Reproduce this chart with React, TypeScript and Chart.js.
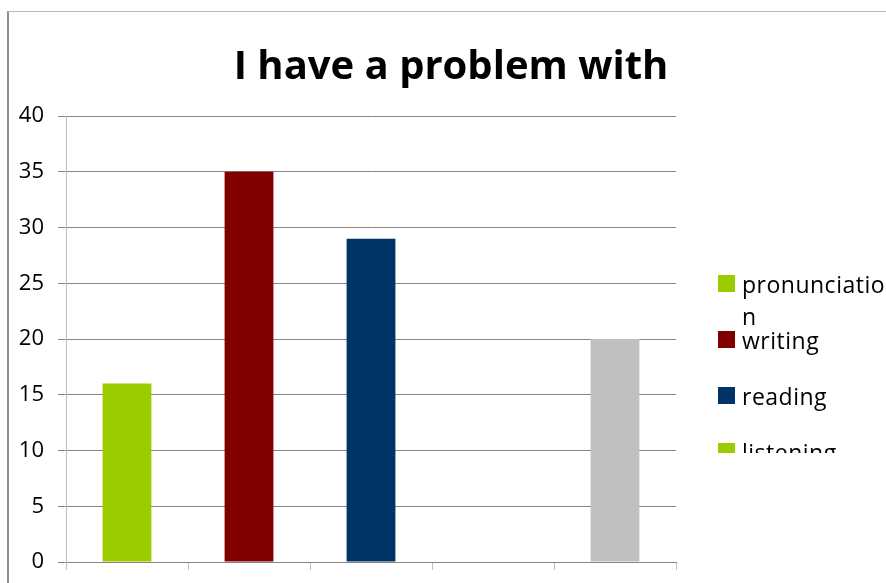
import React, { useEffect, useRef } from 'react';
import { Chart, registerables } from 'chart.js';

Chart.register(...registerables);

const TITLE = 'I have a problem with';
const categories = ['pronunciation', 'writing', 'reading', 'listening', 'speaking'];
const values = [16, 35, 29, 0, 20];
const barColors = ['#9BCC00', '#800000', '#003366', '#9BCC00', '#C0C0C0'];
const yMin = 0;
const yMax = 40;
const yStep = 5;

function wrapText(ctx: CanvasRenderingContext2D, text: string, maxW: number): string[] {
  const lines: string[] = [];
  let cur = '';
  for (const ch of text) {
    const test = cur + ch;
    if (cur && ctx.measureText(test).width > maxW) {
      lines.push(cur);
      cur = ch;
    } else {
      cur = test;
    }
  }
  if (cur) lines.push(cur);
  return lines;
}

const sidePlugin = {
  id: 'sideLegendTitle',
  afterDraw(chart: any, _args: any, opts: any) {
    const ctx: CanvasRenderingContext2D = chart.ctx;
    ctx.save();
    ctx.font = 'bold 40px "Open Sans"';
    ctx.fillStyle = '#000';
    ctx.textAlign = 'center';
    ctx.textBaseline = 'alphabetic';
    ctx.fillText(TITLE, opts.titleX, opts.titleY);

    ctx.beginPath();
    ctx.rect(opts.left - 4, 0, chart.width, opts.clipBottom);
    ctx.clip();
    ctx.font = '23px "Open Sans"';
    (ctx as any).letterSpacing = '0.5px';
    ctx.textAlign = 'left';
    const labels: string[] = chart.data.labels;
    const colors: string[] = chart.data.datasets[0].backgroundColor;
    labels.forEach((label, i) => {
      const top = opts.top + i * opts.pitch;
      ctx.fillStyle = colors[i];
      ctx.fillRect(opts.left, top, opts.box, opts.box);
      ctx.fillStyle = '#000';
      const lines = wrapText(ctx, label, opts.maxTextWidth);
      lines.forEach((ln, j) => {
        ctx.fillText(ln, opts.left + opts.box + opts.gap, top + opts.box + 1 + j * opts.lineHeight);
      });
    });
    ctx.restore();
  },
};

export default function App() {
  const ref = useRef<HTMLCanvasElement>(null);
  useEffect(() => {
    if (!ref.current) return;
    Chart.defaults.font.family = '"Open Sans"';
    const chart = new Chart(ref.current, {
      type: 'bar',
      data: {
        labels: categories,
        datasets: [
          {
            data: values,
            backgroundColor: barColors,
            borderWidth: 0,
            barPercentage: 0.4,
            categoryPercentage: 1.0,
          },
        ],
      },
      options: {
        animation: false,
        responsive: false,
        layout: { padding: { left: 0, top: 116, right: 210, bottom: 13 } },
        scales: {
          x: {
            grid: { offset: true, drawOnChartArea: false, tickLength: 8, color: '#BFBFBF' },
            ticks: { display: false },
            border: { color: '#868686' },
            afterFit: (s: any) => {
              s.height = 8;
            },
          },
          y: {
            min: yMin,
            max: yMax,
            ticks: { stepSize: yStep, color: '#000', font: { size: 22 }, padding: 14 },
            grid: { color: '#868686', tickLength: 8 },
            border: { color: '#BFBFBF' },
            afterFit: (s: any) => {
              s.width = 66;
              s.paddingBottom = 0;
              s.paddingTop = 0;
            },
          },
        },
        plugins: {
          legend: { display: false },
          title: { display: false },
          tooltip: { enabled: false },
          sideLegendTitle: {
            titleX: 451,
            titleY: 79,
            left: 718,
            top: 275,
            pitch: 56,
            box: 17,
            gap: 7,
            lineHeight: 32,
            maxTextWidth: 145,
            clipBottom: 453,
          },
        } as any,
      },
      plugins: [sidePlugin],
    });
    return () => chart.destroy();
  }, []);

  return (
    <div style={{ position: 'absolute', left: 0, top: 0, width: 886, height: 583, overflow: 'hidden', background: '#fff' }}>
      <div
        style={{
          position: 'absolute',
          left: 7,
          top: 11,
          width: 900,
          height: 600,
          borderLeft: '2px solid #8f8f8f',
          borderTop: '1px solid #b8b8b8',
        }}
      />
      <canvas ref={ref} width={886} height={583} style={{ position: 'absolute', left: 0, top: 0, display: 'block' }} />
    </div>
  );
}
